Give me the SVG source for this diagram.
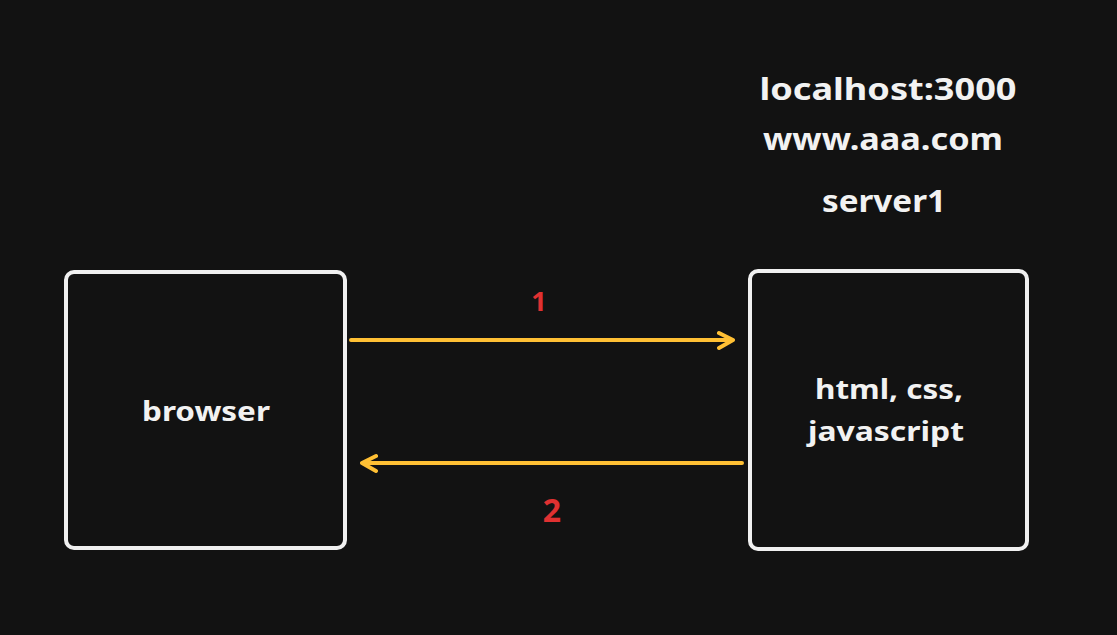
<svg xmlns="http://www.w3.org/2000/svg" width="1117" height="635" viewBox="0 0 1117 635">
<style>
.box{fill:#121212;stroke:#f0f0f0;stroke-width:4}
.t{font-family:"Noto Sans","Liberation Sans",sans-serif;font-weight:bold;fill:#f2f2f2;text-anchor:middle}
.n{font-family:"Noto Sans","Liberation Sans",sans-serif;font-weight:bold;fill:#e03131;text-anchor:middle}
.c{fill:none;stroke:#ffc034;stroke-width:4;stroke-linecap:round;stroke-linejoin:round}
</style>
<rect width="1117" height="635" fill="#121212"/>
<g id="labels">
<text class="t" x="888" y="100" font-size="30" textLength="257" lengthAdjust="spacingAndGlyphs">localhost:3000</text>
<text class="t" x="883" y="150" font-size="30" textLength="240" lengthAdjust="spacingAndGlyphs">www.aaa.com</text>
<text class="t" x="884" y="212" font-size="30" textLength="124" lengthAdjust="spacingAndGlyphs">server1</text>
</g>
<g id="browser">
<rect class="box" x="66" y="272" width="279" height="276" rx="8"/>
<text class="t" x="206" y="421" font-size="27" textLength="128" lengthAdjust="spacingAndGlyphs">browser</text>
</g>
<g id="server">
<rect class="box" x="750" y="271" width="277" height="278" rx="8"/>
<text class="t" x="889" y="399" font-size="27" textLength="148" lengthAdjust="spacingAndGlyphs">html, css,</text>
<text class="t" x="886" y="441" font-size="27" textLength="156" lengthAdjust="spacingAndGlyphs">javascript</text>
</g>
<g id="connectors">
<path class="c" d="M351 340 H733 M719 333 L733 340 L719 348"/>
<path class="c" d="M742 463 H362 M376 456 L362 463 L376 471"/>
<text class="n" x="539" y="311" font-size="27">1</text>
<text class="n" x="552" y="522" font-size="32">2</text>
</g>
</svg>
